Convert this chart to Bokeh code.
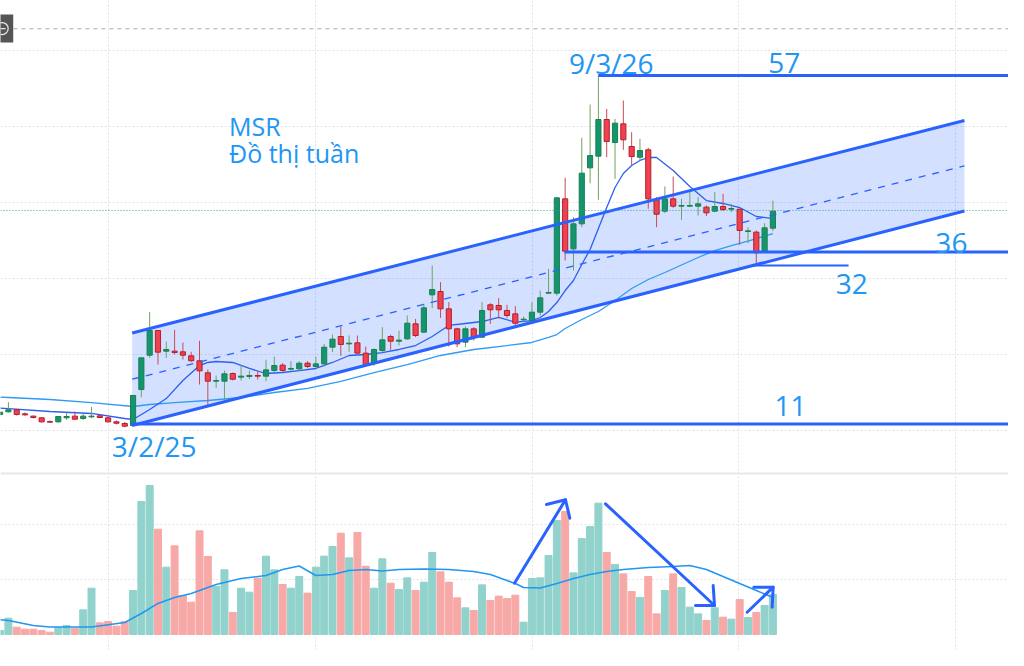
from bokeh.plotting import figure
from bokeh.models import Range1d, Span, ColumnDataSource
from bokeh.core.properties import value
from bokeh.embed import file_html
from bokeh.resources import INLINE

# ---------------- weekly candles (price), first bar is index -1 ----------------
first_bar = -1
opens = [12.11, 12.46, 12.72, 12.19, 11.89, 11.67, 11.18, 11.14, 11.67, 11.89, 11.58,
         11.80, 11.93, 11.67, 11.14, 10.92, 10.66, 15.39, 19.91, 23.16, 20.44,
         20.44, 20.35, 19.82, 19.17, 17.59, 16.49, 16.49, 17.50, 17.02, 17.11,
         17.24, 17.15, 17.89, 18.60, 18.07, 18.11, 18.86, 18.42, 18.77, 20.96,
         22.37, 21.40, 21.54, 20.18, 18.95, 20.53, 22.37, 21.75, 22.06, 24.04,
         22.94, 27.85, 28.29, 26.01, 23.38, 21.62, 23.38, 22.28, 26.54, 26.45,
         25.79, 25.35, 24.56, 24.47, 25.57, 28.07, 28.07, 40.48, 33.90, 37.19,
         44.56, 46.10, 50.92, 47.89, 50.35, 47.37, 45.96, 46.93, 40.35, 38.86,
         40.48, 39.52, 39.52, 39.52, 39.39, 38.86, 39.47, 39.12, 39.12, 36.18,
         36.10, 33.60, 36.62]
highs = [12.50, 13.73, 12.85, 12.37, 11.97, 11.75, 11.32, 11.93, 12.37, 12.50, 12.19,
         13.11, 12.02, 11.84, 11.32, 11.10, 14.61, 19.56, 25.57, 23.16, 21.71,
         23.25, 21.58, 20.35, 21.80, 18.03, 17.24, 17.89, 17.63, 18.60, 17.89,
         17.81, 19.30, 19.74, 18.86, 19.12, 19.12, 19.12, 19.74, 21.40, 22.63,
         23.68, 22.50, 22.50, 21.05, 20.83, 23.60, 22.59, 23.16, 25.13, 24.69,
         26.67, 31.71, 29.52, 26.89, 23.51, 23.68, 23.60, 26.89, 26.75, 27.41,
         26.54, 26.36, 25.00, 26.89, 28.42, 31.27, 40.70, 43.25, 38.07, 48.51,
         52.89, 56.84, 52.32, 51.01, 53.42, 49.25, 48.38, 47.19, 40.70, 42.11,
         43.42, 40.48, 41.67, 40.70, 39.61, 41.36, 41.14, 39.82, 39.17, 36.75,
         36.32, 37.28, 40.26]
lows = [12.02, 12.37, 11.97, 11.93, 11.58, 11.05, 11.01, 11.01, 11.40, 11.40, 11.40,
        11.62, 11.62, 11.05, 10.79, 10.44, 10.53, 14.39, 19.56, 18.68, 19.56,
        20.00, 19.34, 19.04, 16.05, 13.16, 15.61, 13.95, 16.58, 16.58, 16.75,
        16.71, 16.49, 17.72, 17.76, 17.89, 17.81, 18.20, 18.20, 18.42, 20.31,
        19.82, 20.31, 20.09, 18.55, 18.51, 20.31, 20.61, 21.18, 21.93, 22.28,
        22.81, 26.10, 24.82, 21.05, 20.96, 20.96, 21.84, 22.19, 24.04, 24.78,
        24.82, 23.46, 24.25, 24.25, 25.13, 27.98, 27.76, 32.37, 31.05, 36.75,
        42.54, 40.35, 45.96, 43.11, 46.93, 44.87, 45.53, 39.17, 36.75, 38.60,
        39.30, 37.72, 39.39, 38.29, 38.20, 38.73, 38.86, 38.73, 34.43, 34.65,
        31.80, 33.46, 36.23]
closes = [12.41, 12.72, 12.11, 12.06, 11.71, 11.14, 11.10, 11.84, 11.84, 11.49, 11.89,
          11.89, 11.71, 11.14, 10.96, 10.57, 14.61, 19.56, 23.16, 20.31, 20.66,
          20.26, 19.91, 19.17, 17.85, 16.49, 16.58, 17.46, 16.75, 17.15, 17.24,
          17.15, 17.98, 18.55, 17.89, 18.16, 18.86, 18.42, 18.77, 20.96, 22.02,
          21.32, 21.49, 20.18, 18.68, 20.66, 21.93, 21.75, 21.89, 24.12, 22.50,
          26.14, 28.55, 26.01, 23.38, 21.40, 23.38, 22.28, 25.79, 25.88, 25.88,
          25.13, 24.12, 24.65, 25.57, 27.46, 28.16, 40.61, 33.60, 37.19, 43.86,
          46.18, 50.92, 48.03, 50.44, 48.25, 46.05, 46.84, 40.48, 38.46, 40.48,
          39.52, 39.61, 39.61, 39.82, 38.64, 39.47, 39.08, 39.21, 36.32, 36.27,
          33.38, 36.67, 38.86]
volumes = [0.073, 0.297, 0.133, 0.097, 0.097, 0.073, 0.042, 0.121, 0.164, 0.115, 0.448,
           0.842, 0.212, 0.236, 0.152, 0.236, 0.800, 2.418, 2.709, 1.915, 1.224,
           1.612, 0.709, 0.588, 1.885, 1.418, 0.873, 1.176, 0.400, 0.842, 0.770,
           1.024, 1.424, 1.176, 0.909, 0.842, 1.055, 0.752, 1.224, 1.424, 1.600,
           1.842, 1.394, 1.855, 1.242, 0.842, 1.376, 0.933, 0.818, 1.030, 0.800,
           0.952, 1.491, 1.139, 0.952, 0.667, 0.485, 0.436, 0.903, 0.618, 0.697,
           0.655, 0.715, 0.224, 1.018, 1.030, 1.436, 2.073, 2.236, 1.121, 1.745,
           1.964, 2.388, 1.491, 1.273, 1.103, 0.782, 0.673, 1.055, 0.376, 0.800,
           1.103, 0.855, 0.497, 0.376, 0.255, 0.485, 0.315, 0.279, 0.636, 0.309,
           0.400, 0.527, 0.727]

# ---------------- moving averages ----------------
fast_ma_bars = [-1, 0, 5, 10, 14, 15, 17, 19, 21, 23, 24, 25, 27, 29, 31, 33, 35, 37, 39, 41,
                43, 45, 47, 49, 51, 53, 55, 57, 59, 61, 63, 64, 65, 66, 67, 68, 69, 70,
                71, 72, 73, 74, 75, 76, 77, 78, 80, 82, 84, 86, 88, 90, 92]
fast_ma_vals = [12.95, 12.89, 12.50, 12.24, 11.58, 11.45, 12.76, 14.20, 16.58, 18.55, 18.95,
                19.08, 18.95, 18.16, 17.50, 17.63, 17.89, 18.16, 18.95, 19.87,
                20.00, 20.26, 20.66, 21.18, 22.37, 23.82, 24.08, 24.34, 24.87, 24.25, 24.47,
                24.87, 25.66, 26.84, 28.42, 29.74, 31.84, 33.82,
                36.58, 39.34, 41.97, 43.82, 44.87, 45.53, 45.92, 45.92, 44.21, 42.11,
                40.26, 39.87, 39.34, 38.16, 37.89]
slow_ma_bars = [-1, 0, 5, 10, 15, 17, 20, 24, 28, 32, 36, 40, 44, 48, 52, 56, 60, 63, 65,
                66, 67, 69, 71, 73, 75, 77, 79, 81, 83, 85, 87, 89, 91, 92]
slow_ma_vals = [14.38, 14.34, 14.08, 13.68, 13.16, 13.42, 13.68, 13.95, 14.34, 15.00, 15.53,
                16.45, 17.63, 18.68, 19.87, 20.66, 21.18, 21.58, 22.24,
                22.63, 23.42, 24.61, 25.66, 27.11, 28.68, 29.87, 30.79, 31.78, 32.76,
                33.68, 34.34, 34.93, 35.59, 35.92]
vol_ma_bars = [-1, 0, 3, 5, 10, 14, 16, 18, 20, 22, 25, 28, 31, 33, 35, 37, 39, 41, 43, 45,
               47, 50, 53, 56, 58, 60, 61, 62, 64, 66, 68, 70, 72, 74, 77, 80, 82, 84,
               86, 88, 90, 92]
vol_ma_vals = [0.27, 0.255, 0.164, 0.136, 0.136, 0.218, 0.382, 0.564, 0.673, 0.745, 0.909,
               1.018, 1.073, 1.182, 1.245, 1.073, 1.091, 1.164, 1.182, 1.155,
               1.182, 1.191, 1.182, 1.145, 1.091, 0.982, 0.927, 0.855, 0.845, 0.927,
               1.018, 1.091, 1.145, 1.182, 1.218, 1.236, 1.255, 1.182,
               1.055, 0.927, 0.800, 0.673]

# ---------------- drawings / annotations ----------------
level_57 = 56.71
level_36 = 33.50
level_32 = 31.71
level_11 = 10.86
last_price = 38.95
top_dash_level = 62.86
pane_separator = 4.34
channel_x = [14.9, 115.05]
channel_upper = [22.83, 50.79]
channel_lower = [10.66, 38.88]
price_grid = [10, 20, 30, 40, 50, 60]
vol_grid = [1, 2]
time_grid = [12.05, 36.96, 63.07, 87.86, 113.97]

labels_big = ["9/3/26", "57", "36", "32", "11", "3/2/25"]
labels_big_x = [67.45, 91.45, 111.55, 99.55, 92.2, 12.45]
labels_big_y = [58.35, 58.35, 34.65, 29.25, 13.20, 7.90]
title_lines = ["MSR", "Đồ thị tuần"]
title_x = [26.55, 26.55]
title_y = [50.04, 46.45]

arrow_shafts_x = [[60.90, 67.04], [71.85, 84.97], [88.90, 92.03]]
arrow_shafts_y = [[0.933, 2.449], [2.376, 0.527], [0.405, 0.860]]
arrow_heads_x = [[64.75, 67.04, 67.56], [82.68, 84.97, 84.81], [89.70, 92.03, 91.91]]
arrow_heads_y = [[2.364, 2.449, 2.115], [0.527, 0.527, 0.891], [0.860, 0.860, 0.496]]

# ---------------- colours ----------------
UP_FILL, UP_LINE, UP_WICK = "#129670", "#1f7f4c", "#6fa35f"
DN_FILL, DN_LINE, DN_WICK = "#f0414e", "#b3202c", "#c94a54"
VOL_UP, VOL_DN = "#92d2cc", "#f7a9a7"
DRAW = "#2962ff"
TEXT = "#2196f3"

idx = list(range(first_bar, first_bar + len(opens)))
up = [c >= o for o, c in zip(opens, closes)]
src = ColumnDataSource(dict(
    x=idx, o=opens, h=highs, l=lows, c=closes, v=volumes,
    top=[max(o, c) for o, c in zip(opens, closes)],
    bot=[min(o, c) for o, c in zip(opens, closes)],
    fill=[UP_FILL if u else DN_FILL for u in up],
    line=[UP_LINE if u else DN_LINE for u in up],
    wick=[UP_WICK if u else DN_WICK for u in up],
    vcol=[VOL_UP if u else VOL_DN for u in up],
))

X_END = 120.35
p = figure(width=1008, height=650, x_range=Range1d(-0.9507, X_END),
           y_range=Range1d(-18.947, 66.579), toolbar_location=None,
           output_backend="svg", x_axis_location=None, y_axis_location=None,
           min_border=0, outline_line_color=None)
p.extra_y_ranges = {"vol": Range1d(-0.2909, 11.527)}
p.grid.visible = False
p.background_fill_color = "white"
p.border_fill_color = "white"

# grid lines
for gx in time_grid:
    p.add_layout(Span(location=gx, dimension="height", line_color="#dfe2e8",
                      line_dash="2 2", line_width=1, level="underlay"))
for gy in price_grid:
    p.add_layout(Span(location=gy, dimension="width", line_color="#dfe2e8",
                      line_dash="2 2", line_width=1, level="underlay"))
for gv in vol_grid:
    p.add_layout(Span(location=gv, dimension="width", line_color="#dfe2e8",
                      line_dash="2 2", line_width=1, level="underlay",
                      y_range_name="vol"))
p.add_layout(Span(location=pane_separator, dimension="width", line_color="#e6e7ea",
                  line_width=2))

# channel fill
p.patch([channel_x[0], channel_x[1], channel_x[1], channel_x[0]],
        [channel_upper[0], channel_upper[1], channel_lower[1], channel_lower[0]],
        fill_color=DRAW, fill_alpha=0.2, line_color=None)

# top dashed line and last-price line
p.segment(x0=[0.61], y0=[top_dash_level], x1=[X_END], y1=[top_dash_level],
          line_color="#a8abb3", line_dash="4 4", line_width=1)
p.add_layout(Span(location=last_price, dimension="width", line_color="#26a69a",
                  line_dash="1 2", line_width=1))

# small pane button at the top-left corner
p.quad(left=[-1.2], right=[0.58], top=[64.74], bottom=[61.05],
       fill_color="#555555", line_color=None)
p.scatter(x=[-0.75], y=[62.89], marker="circle", size=12, fill_color=None,
          line_color="#e8e8e8", line_width=1.2)
p.segment(x0=[-0.95], y0=[62.89], x1=[-0.35], y1=[62.89], line_color="#e8e8e8",
          line_width=1.2)

# volume
p.vbar(x="x", top="v", bottom=0, width=0.84, fill_color="vcol", line_color="vcol",
       source=src, y_range_name="vol")
p.line(vol_ma_bars, vol_ma_vals, line_color=TEXT, line_width=1.5, y_range_name="vol")

# moving averages
p.line(slow_ma_bars, slow_ma_vals, line_color="#2f9bf5", line_width=1.3)
p.line(fast_ma_bars, fast_ma_vals, line_color="#2b5ff0", line_width=1.3)

# candles
p.segment(x0="x", y0="l", x1="x", y1="h", line_color="wick", line_width=1, source=src)
p.vbar(x="x", top="top", bottom="bot", width=0.62, fill_color="fill",
       line_color="line", line_width=1, source=src)

# channel lines
p.line(channel_x, channel_upper, line_color=DRAW, line_width=3)
p.line(channel_x, channel_lower, line_color=DRAW, line_width=3)
p.line(channel_x, [(a + b) / 2 for a, b in zip(channel_upper, channel_lower)],
       line_color=DRAW, line_width=1.3, line_dash="7 7")

# horizontal level lines
p.segment(x0=[71.0, 66.9, 14.8], y0=[level_57, level_36, level_11],
          x1=[X_END, X_END, X_END], y1=[level_57, level_36, level_11],
          line_color=DRAW, line_width=3)
p.segment(x0=[89.6], y0=[level_32], x1=[101.1], y1=[level_32],
          line_color=DRAW, line_width=2)

# arrows in volume pane
p.multi_line(arrow_shafts_x, arrow_shafts_y, line_color=DRAW, line_width=3,
             line_cap="round", y_range_name="vol")
p.multi_line(arrow_heads_x, arrow_heads_y, line_color=DRAW, line_width=3,
             line_cap="round", line_join="round", y_range_name="vol")

# texts
p.text(x=labels_big_x, y=labels_big_y, text=labels_big, text_font=value("Open Sans"),
       text_font_size="28px", text_color=TEXT, text_align="left",
       text_baseline="alphabetic")
p.text(x=title_x, y=title_y, text=title_lines, text_font=value("Open Sans"),
       text_font_size="25px", text_color=TEXT, text_align="left",
       text_baseline="alphabetic")

open("out.html", "w").write(file_html(p, INLINE, title="MSR"))
